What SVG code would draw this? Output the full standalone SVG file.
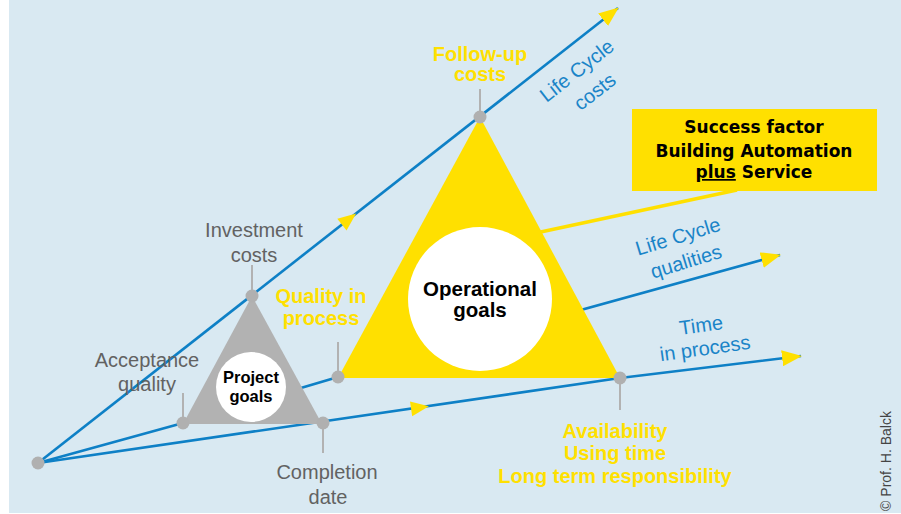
<svg xmlns="http://www.w3.org/2000/svg" width="901" height="514" viewBox="0 0 901 514">
<defs>
<style>
.ln{fill:none;stroke:#0e80c6;stroke-width:2.6;stroke-linejoin:round}
.pin{stroke:#b2b2b2;stroke-width:2}
.dot{fill:#b0b0b0}
.yl{font-family:"Liberation Sans",Arial,sans-serif;font-weight:bold;font-size:20px;fill:#ffe000;text-anchor:middle}
.gr{font-family:"Liberation Sans",Arial,sans-serif;font-size:20px;fill:#626262;text-anchor:middle}
.bl{font-family:"Liberation Sans",Arial,sans-serif;font-size:20px;fill:#1a84c8;text-anchor:middle}
.bk{font-family:"Liberation Sans",Arial,sans-serif;font-weight:bold;fill:#000;text-anchor:middle}
.bx{font-family:"DejaVu Sans",Verdana,sans-serif;font-weight:bold;font-size:17px;fill:#000;text-anchor:middle}
.yf{fill:#ffe000}
</style>
<marker id="ah" markerUnits="userSpaceOnUse" viewBox="0 0 20 16" refX="19" refY="8" markerWidth="20" markerHeight="16" orient="auto">
<path d="M0,0 L20,8 L0,16 z" fill="#ffe000"/>
</marker>
</defs>
<rect x="9" y="0" width="892" height="513" fill="#d9e9f2"/>
<g id="connectors">
<path class="ln" d="M38,463 L618,8" marker-end="url(#ah)"/>
<path class="ln" d="M38,463 L183,423 L338,377 L780,255" marker-end="url(#ah)"/>
<path class="ln" d="M38,463 L620,378 L801,356" marker-end="url(#ah)"/>
<polygon class="yf" points="-9,-7.5 9,0 -9,7.5" transform="translate(349,219) rotate(-38.1)"/>
<polygon class="yf" points="-9,-7.5 9,0 -9,7.5" transform="translate(420,407.5) rotate(-8.3)"/>
<line x1="737" y1="190" x2="536" y2="233" stroke="#ffe000" stroke-width="3.5"/>
</g>
<g id="project-goals">
<polygon points="252,296 183,424 322,424" fill="#b2b2b2"/>
<circle cx="251" cy="387" r="35" fill="#fff"/>
<text class="bk" font-size="16.5" x="251" y="383">Project</text>
<text class="bk" font-size="16.5" x="251" y="402">goals</text>
</g>
<g id="operational-goals">
<polygon points="480,117 338,378 620,378" fill="#ffe000"/>
<circle cx="480" cy="299" r="72" fill="#fff"/>
<text class="bk" font-size="20.5" x="480" y="296">Operational</text>
<text class="bk" font-size="20.5" x="480" y="317">goals</text>
</g>
<g id="success-factor">
<rect x="632" y="109" width="245" height="82" fill="#ffe000"/>
<text class="bx" x="754" y="133">Success factor</text>
<text class="bx" x="754" y="157">Building Automation</text>
<text class="bx" x="754" y="178"><tspan text-decoration="underline">plus</tspan> Service</text>
</g>
<g id="origin">
<circle class="dot" cx="38" cy="463" r="6.5"/>
</g>
<g id="follow-up-costs">
<line class="pin" x1="480" y1="89" x2="480" y2="117"/>
<circle class="dot" cx="480" cy="117" r="6.5"/>
<text class="yl" x="480" y="61">Follow-up</text>
<text class="yl" x="480" y="81">costs</text>
</g>
<g id="investment-costs">
<line class="pin" x1="252" y1="265" x2="252" y2="296"/>
<circle class="dot" cx="252" cy="296" r="6.5"/>
<text class="gr" x="254" y="237">Investment</text>
<text class="gr" x="254" y="262">costs</text>
</g>
<g id="acceptance-quality">
<line class="pin" x1="183" y1="393" x2="183" y2="423"/>
<circle class="dot" cx="183" cy="423" r="6.5"/>
<text class="gr" x="147" y="367">Acceptance</text>
<text class="gr" x="147" y="391">quality</text>
</g>
<g id="quality-in-process">
<line class="pin" x1="338" y1="342" x2="338" y2="377"/>
<circle class="dot" cx="338" cy="377" r="6.5"/>
<text class="yl" x="321" y="303">Quality in</text>
<text class="yl" x="321" y="325">process</text>
</g>
<g id="completion-date">
<line class="pin" x1="323" y1="423" x2="323" y2="453"/>
<circle class="dot" cx="323" cy="423" r="6.5"/>
<text class="gr" x="327" y="479">Completion</text>
<text class="gr" x="328" y="504">date</text>
</g>
<g id="availability">
<line class="pin" x1="620" y1="378" x2="620" y2="410"/>
<circle class="dot" cx="620" cy="378" r="6.5"/>
<text class="yl" x="615" y="438">Availability</text>
<text class="yl" x="615" y="460">Using time</text>
<text class="yl" x="615" y="483">Long term responsibility</text>
</g>
<g id="axis-labels">
<text class="bl" transform="translate(581,76) rotate(-38)">Life Cycle</text>
<text class="bl" transform="translate(599,97) rotate(-38)">costs</text>
<text class="bl" transform="translate(680,243) rotate(-17)">Life Cycle</text>
<text class="bl" transform="translate(688,268) rotate(-17)">qualities</text>
<text class="bl" transform="translate(702,332) rotate(-8)">Time</text>
<text class="bl" transform="translate(706,355) rotate(-8)">in process</text>
</g>
<text transform="translate(891,461) rotate(-90)" font-family="Liberation Sans,Arial,sans-serif" font-size="14" fill="#444" text-anchor="middle">© Prof. H. Balck</text>
</svg>
